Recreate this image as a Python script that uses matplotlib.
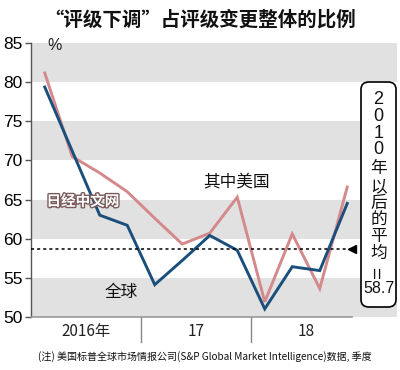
import matplotlib
matplotlib.use("Agg")
import matplotlib.pyplot as plt
import matplotlib.patheffects as pe
from matplotlib.patches import FancyBboxPatch
import matplotlib.transforms as mtransforms

plt.rcParams['font.family'] = ['Noto Sans CJK SC', 'DejaVu Sans']

# ---- data ----
quarters = ["16Q1", "16Q2", "16Q3", "16Q4", "17Q1", "17Q2", "17Q3", "17Q4",
            "18Q1", "18Q2", "18Q3", "18Q4"]
global_vals = [79.4, 71.2, 63.0, 61.7, 54.1, 57.2, 60.4, 58.5, 51.0, 56.4, 55.9, 64.5]
us_vals = [81.2, 70.5, 68.4, 66.0, 62.6, 59.3, 60.7, 65.3, 51.9, 60.6, 53.6, 66.6]
avg_since_2010 = 58.7
year_labels = ["2016年", "17", "18"]
yticks = [50, 55, 60, 65, 70, 75, 80, 85]
callout_chars = ["2", "0", "1", "0", "年", "以", "后", "的", "平", "均", "=", "58.7"]

blue = "#1b4f7b"
pink = "#d4898b"
band = "#e1e1e1"

fig = plt.figure(figsize=(4.0, 3.7), dpi=100)
W, H = 400, 370
ax_left, ax_right, ax_top, ax_bot = 31, 397, 43.3, 316.7
ax = fig.add_axes([ax_left / W, (H - ax_bot) / H, (ax_right - ax_left) / W, (ax_bot - ax_top) / H])

qw = 27.5
xmin = -0.5
xmax = xmin + (ax_right - ax_left) / qw
ax.set_xlim(xmin, xmax)
ax.set_ylim(50, 85)

# gray bands
for lo in range(50, 85, 10):
    ax.axhspan(lo, lo + 5, color=band, lw=0, zorder=0)

x = list(range(len(quarters)))
ax.plot(x, us_vals, color=pink, lw=2.1, zorder=3, solid_joinstyle='miter')
ax.plot(x, global_vals, color=blue, lw=2.1, zorder=4, solid_joinstyle='miter')

# average dotted line and marker
xend = xmin + (352 - ax_left) / qw
ax.plot([xmin, xend], [avg_since_2010] * 2, color="black", lw=1.1, ls=(0, (2, 2)), zorder=5)
ax.plot([xend], [avg_since_2010], marker="<", color="black", ms=6, zorder=6, clip_on=False)

# spines
for s in ["top", "right", "bottom"]:
    ax.spines[s].set_visible(False)
ax.spines["left"].set_color("#555555")
ax.spines["left"].set_linewidth(1.0)
ax.plot([xmin, xend], [50, 50], color="#999999", lw=1.2, clip_on=False, zorder=5)

ax.set_yticks(yticks)
ax.set_yticklabels([str(v) for v in yticks], family=['Liberation Sans Narrow', 'Liberation Sans'], fontsize=12.5)
ax.tick_params(axis="y", length=4, width=1, color="#555555", pad=2)
ax.set_xticks([])

# year labels and separators
trans = mtransforms.blended_transform_factory(ax.transData, ax.transAxes)
for i, lab in enumerate(year_labels):
    ax.text(1.5 + 4 * i, -0.055, lab, transform=trans, ha="center", va="center",
            fontsize=11, color="#222222")
for sep in [3.5, 7.5]:
    ax.plot([sep, sep], [0, -25 / (ax_bot - ax_top)], transform=trans, color="#888888",
            lw=1.0, clip_on=False)

ax.text(0.1, 84.7, "%", fontsize=11.5, ha="left", va="center", color="#222222",
        family=['Liberation Sans', 'DejaVu Sans'])

# series labels
ax.text(xmin + (121.7 - ax_left) / qw, 50 + (316.7 - 293) / 7.8, "全球", fontsize=12,
        ha="center", va="center", color="#111111")
ax.text(xmin + (237 - ax_left) / qw, 50 + (316.7 - 182) / 7.8, "其中美国", fontsize=12,
        ha="center", va="center", color="#111111")

# watermark
ax.text(xmin + (83 - ax_left) / qw, 50 + (316.7 - 201) / 7.8, "日经中文网", fontsize=10.5,
        fontweight="bold", ha="center", va="center", color="white", zorder=7,
        path_effects=[pe.withStroke(linewidth=2.0, foreground="#7a5a5a")])

# callout box
box = FancyBboxPatch((361 / W, (H - 307) / H), 35 / W, 225 / H,
                     boxstyle="round,pad=0,rounding_size=0.02", transform=fig.transFigure,
                     facecolor="white", edgecolor="black", lw=1.2, zorder=10)
fig.patches.append(box)
ys = [100, 116.7, 133.3, 150, 168.3, 186.7, 203.3, 220, 236.7, 253.3, 271.7, 288.3]
for ch, yy in zip(callout_chars, ys):
    kw = dict(ha="center", va="center", color="#111111", zorder=20)
    if ch == "=":
        fig.text(378.5 / W, (H - yy) / H, "=", fontsize=15, rotation=90,
                 family=['Liberation Sans', 'DejaVu Sans'], **kw)
    elif ch == "58.7":
        fig.text(378.5 / W, (H - yy) / H, ch, fontsize=11.5,
                 family=['Liberation Sans Narrow', 'Liberation Sans'], **kw)
    elif ch.isdigit():
        fig.text(378.5 / W, (H - yy) / H, ch, fontsize=13,
                 family=['Liberation Sans', 'DejaVu Sans'], **kw)
    else:
        fig.text(378.5 / W, (H - yy) / H, ch, fontsize=12, **kw)

# title
fig.text(200 / W, (H - 20) / H, "“评级下调”占评级变更整体的比例", fontsize=14,
         fontweight="bold", ha="center", va="center", color="#111111")

# footnote
fig.text(205 / W, (H - 357) / H,
         "(注) 美国标普全球市场情报公司(S&P Global Market Intelligence)数据, 季度",
         fontsize=7.2, ha="center", va="center", color="#111111",
         family=['Liberation Sans Narrow', 'Noto Sans CJK SC'])

fig.savefig("out.png", dpi=100)
